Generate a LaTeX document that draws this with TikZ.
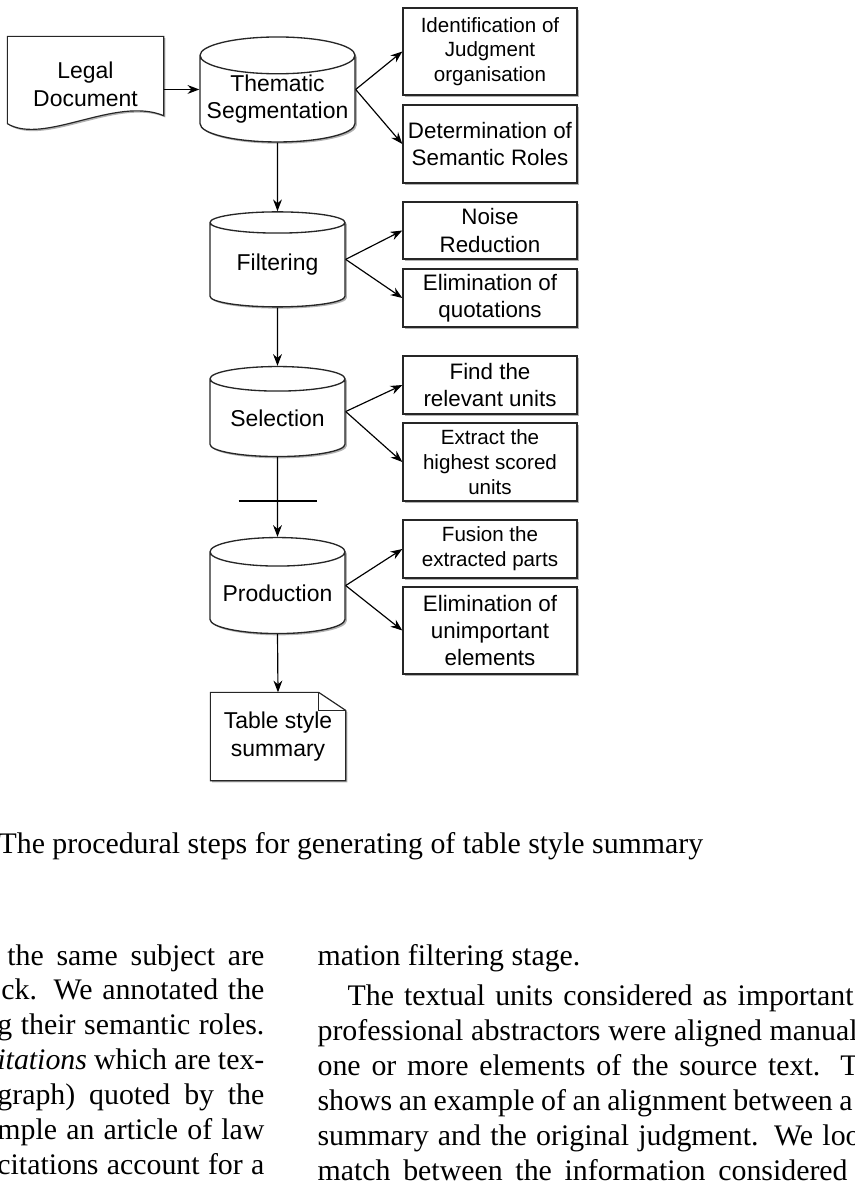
\documentclass[tikz,border=0pt]{standalone}
\usepackage{fontspec}
\setmainfont{Liberation Serif}
\setsansfont{Liberation Sans}
\usetikzlibrary{arrows.meta,calc,shapes.geometric,shadows}
\pgfdeclarelayer{bg}
\pgfsetlayers{bg,main}
\newdimen\pxunit
\pxunit=0.34pt
\tikzset{
  >=Stealth,
  every picture/.append style={line width=0.45pt},
}

\begin{document}
\begin{tikzpicture}[x=\pxunit, y=-\pxunit,
  boxshadow/.style={drop shadow={shadow xshift=0.6pt, shadow yshift=-0.6pt,
                    fill=black!30, opacity=1}},
  stage/.style={cylinder, shape border rotate=90, aspect=0.26, draw=black!85,
                fill=white, minimum width=135*\pxunit, align=center, inner sep=0pt,
                boxshadow, font=\sffamily\fontsize{7.8}{9.4}\selectfont},
  task/.style={rectangle, draw=black!85, fill=white, minimum width=174*\pxunit,
               align=center, inner sep=0pt, boxshadow,
               font=\sffamily\fontsize{7.6}{9.2}\selectfont},
  tasksmall/.style={font=\sffamily\fontsize{7}{8.4}\selectfont},
  doc/.style={rectangle, draw=none, align=center, inner sep=0pt,
              font=\sffamily\fontsize{7.8}{9.4}\selectfont},
  docline/.style={draw=black!85, fill=white, boxshadow},
  arrow/.style={-{Stealth[length=4pt,width=3pt]}, draw=black},
  cutbar/.style={line width=1pt, draw=black},
  bodyline/.style={inner sep=0pt, font=\fontsize{10.15}{12}\selectfont}
]
\useasboundingbox (0,0) rectangle (855,1195);

% Input document and segmentation
\node[doc, minimum width=155*\pxunit, minimum height=94*\pxunit] (legal) at (85.5,84) {Legal\\Document};
\node[stage, minimum width=155*\pxunit, minimum height=105*\pxunit] (them) at (277.5,99) {Thematic\\Segmentation};
\node[task, tasksmall, minimum height=87*\pxunit] (ident) at (490,51.5) {Identification of\\Judgment\\organisation};
\node[task, minimum height=78*\pxunit] (determ) at (490,144) {Determination of\\Semantic Roles};

% Filtering
\node[stage, minimum height=95*\pxunit] (filt) at (277.5,265) {Filtering};
\node[task, minimum height=57*\pxunit] (noise) at (490,230.5) {Noise\\Reduction};
\node[task, minimum height=58*\pxunit] (elimq) at (490,298) {Elimination of\\quotations};

% Selection
\node[stage, minimum height=90*\pxunit] (sel) at (277.5,418) {Selection};
\node[task, minimum height=58*\pxunit] (find) at (490,385) {Find the\\relevant units};
\node[task, tasksmall, minimum height=78*\pxunit] (extract) at (490,462) {Extract the\\highest scored\\units};

% Production
\node[stage, minimum height=96*\pxunit] (prod) at (277.5,593) {Production};
\node[task, tasksmall, minimum height=58*\pxunit] (fusion) at (490,549) {Fusion the\\extracted parts};
\node[task, minimum height=87*\pxunit] (elimu) at (490,630.5) {Elimination of\\unimportant\\elements};

% Output summary
\node[doc, minimum width=134*\pxunit, minimum height=87*\pxunit] (summ) at (278,736.5) {Table style\\summary};

% Document outlines behind the texts
\begin{pgfonlayer}{bg}
\draw[docline] (legal.north west) -- (legal.north east) -- ($(legal.south east)+(0,-16)$)
  .. controls ($(legal.south east)+(-48,-36)$) and ($(legal.south west)+(37,14)$) .. ($(legal.south west)+(0,-8)$) -- cycle;
\draw[docline] (summ.south west) -- (summ.north west) -- ($(summ.north east)+(-27,0)$)
  -- ($(summ.north east)+(0,18)$) -- (summ.south east) -- cycle;
\draw[draw=black!85] ($(summ.north east)+(-27,0)$) -- ++(0,18) -- ++(27,0);
\end{pgfonlayer}

% Flow arrows
\draw[arrow] (legal.east |- them.shape center) -- (them.west |- them.shape center);
\draw[arrow] (them.south) -- (filt.north);
\draw[arrow] (filt.south) -- (sel.north);
\draw[arrow] (sel.south) -- (prod.north);
\draw[arrow] (prod.south) -- (summ.north);
\coordinate (cutmark) at (277.5,501);
\draw[cutbar] ($(cutmark)+(-39,0)$) -- ($(cutmark)+(39,0)$);

% Stage to task arrows
\draw[arrow] (them.east |- them.shape center) -- (ident.west);
\draw[arrow] (them.east |- them.shape center) -- (determ.west);
\draw[arrow] (filt.east |- filt.shape center) -- (noise.west);
\draw[arrow] (filt.east |- filt.shape center) -- (elimq.west);
\draw[arrow] (sel.east |- sel.shape center) -- (find.west);
\draw[arrow] (sel.east |- sel.shape center) -- (extract.west);
\draw[arrow] (prod.east |- prod.shape center) -- (fusion.west);
\draw[arrow] (prod.east |- prod.shape center) -- (elimu.west);

% Caption and surrounding page text
\node[bodyline, anchor=base west] (caption) at (-2,853) {The procedural steps for generating of table style summary};

\node[bodyline, anchor=base east] (left1) at (265,965) {\makebox[257\pxunit][s]{the same subject are}};
\node[bodyline, anchor=base east] (left2) at (265,999) {\makebox[263\pxunit][s]{ck. We annotated the}};
\node[bodyline, anchor=base east] (left3) at (265,1034) {\makebox[267\pxunit][s]{g their semantic roles.}};
\node[bodyline, anchor=base east] (left4) at (265,1069) {\makebox[267\pxunit][s]{\textit{itations} which are tex-}};
\node[bodyline, anchor=base east] (left5) at (265,1104) {\makebox[267\pxunit][s]{graph) quoted by the}};
\node[bodyline, anchor=base east] (left6) at (265,1139) {\makebox[267\pxunit][s]{mple an article of law}};
\node[bodyline, anchor=base east] (left7) at (265,1174) {\makebox[267\pxunit][s]{citations account for a}};

\node[bodyline, anchor=base west] (right1) at (317,965) {mation filtering stage.};
\node[bodyline, anchor=base west] (right2) at (347,1005) {\makebox[506\pxunit][s]{The textual units considered as important}};
\node[bodyline, anchor=base west] (right3) at (317,1040) {\makebox[540\pxunit][s]{professional abstractors were aligned manual}};
\node[bodyline, anchor=base west] (right4) at (317,1075) {\makebox[541\pxunit][s]{one or more elements of the source text. T}};
\node[bodyline, anchor=base west] (right5) at (317,1110) {\makebox[535\pxunit][s]{shows an example of an alignment between a}};
\node[bodyline, anchor=base west] (right6) at (317,1145) {\makebox[543\pxunit][s]{summary and the original judgment. We loo}};
\node[bodyline, anchor=base west] (right7) at (317,1180) {\makebox[530\pxunit][s]{match between the information considered}};

\end{tikzpicture}
\end{document}
